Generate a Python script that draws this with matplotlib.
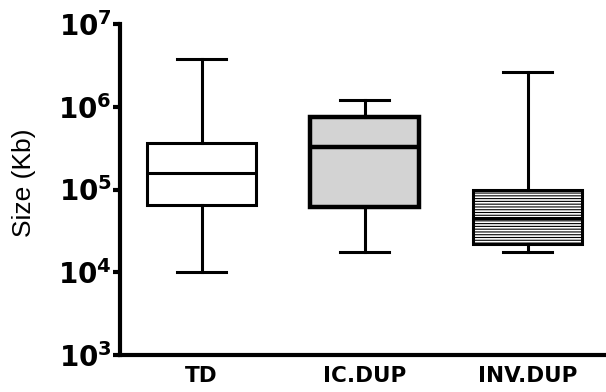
import math
import matplotlib.pyplot as plt
import matplotlib.ticker as mticker

plt.rcParams['font.family'] = ['Liberation Sans', 'DejaVu Sans']
plt.rcParams['mathtext.fontset'] = 'dejavusans'
plt.rcParams['hatch.linewidth'] = 0.8

# box stats (Kb)
groups = ["TD", "IC.DUP", "INV.DUP"]
whislo = [1.0e4, 1.75e4, 1.75e4]
q1 = [6.5e4, 6.1e4, 2.2e4]
med = [1.6e5, 3.3e5, 4.5e4]
q3 = [3.6e5, 7.6e5, 1.0e5]
whishi = [3.8e6, 1.2e6, 2.6e6]

faces = ["white", "#d3d3d3", "white"]
hatches = [None, None, "------"]
lws = [2.2, 3.2, 2.2]

stats = []
for i, g in enumerate(groups):
    stats.append({"label": g, "whislo": whislo[i], "q1": q1[i], "med": med[i],
                  "q3": q3[i], "whishi": whishi[i], "fliers": []})

fig = plt.figure(figsize=(6.06, 3.92), dpi=100)
ax = fig.add_axes([0.198, 0.094, 0.802, 0.845])

for i, s in enumerate(stats):
    ax.bxp([s], positions=[i + 1], widths=0.67, patch_artist=True,
           showfliers=False,
           boxprops=dict(facecolor=faces[i], edgecolor="black", linewidth=lws[i],
                         hatch=hatches[i]),
           medianprops=dict(color="black", linewidth=lws[i]),
           whiskerprops=dict(color="black", linewidth=2.2),
           capprops=dict(color="black", linewidth=2.2),
           capwidths=0.3)

ax.set_yscale("log")
ax.set_ylim(1e3, 1e7)
ax.set_xlim(0.5, 3.48)
ax.yaxis.set_major_locator(mticker.LogLocator(base=10, numticks=10))
ax.yaxis.set_minor_locator(mticker.NullLocator())
ax.yaxis.set_major_formatter(mticker.FuncFormatter(
    lambda v, p: r"$\mathbf{10^{%d}}$" % round(math.log10(v))))

for side in ["top", "right"]:
    ax.spines[side].set_visible(False)
ax.spines["left"].set_linewidth(3)
ax.spines["bottom"].set_linewidth(3)

ax.tick_params(axis="y", direction="out", length=5, width=3, labelsize=20, pad=1)
ax.tick_params(axis="x", length=0, labelsize=15.5, pad=8)
for t in ax.get_xticklabels():
    t.set_family("DejaVu Sans")
    t.set_fontweight("bold")
ax.set_ylabel("Size (Kb)", fontsize=19)
ax.yaxis.set_label_coords(-0.172, 0.52)

plt.savefig("out.png", dpi=100)
